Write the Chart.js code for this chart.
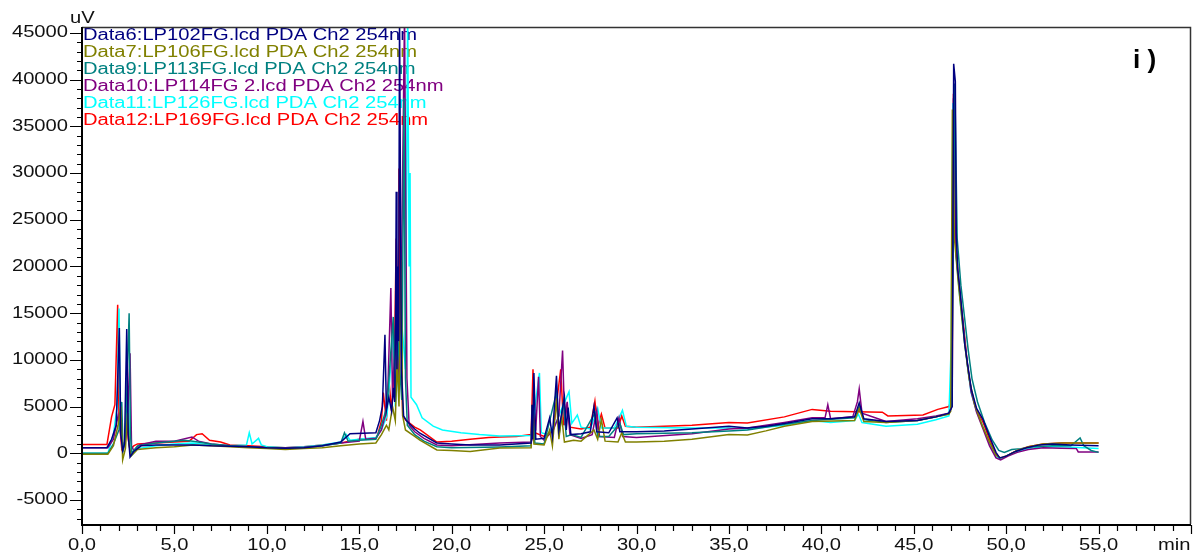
<!DOCTYPE html>
<html>
<head>
<meta charset="utf-8">
<script src="https://cdn.jsdelivr.net/npm/chart.js@4.4.1/dist/chart.umd.min.js"></script>
<style>
  html, body { margin: 0; padding: 0; background: #ffffff; }
  #wrap { width: 1195px; height: 556px; }
</style>
</head>
<body>
<div id="wrap"><canvas id="chrom" width="1195" height="556"></canvas></div>
<script>
// Chromatogram traces: [retention time (min), signal (uV)]
const data6 = [[0,600],[1.35,600],[1.6,1500],[1.85,3000],[2.02,13400],[2.1,2000],[2.2,300],[2.3,1000],[2.42,13300],[2.5,2000],[2.6,-400],[2.8,200],[3.2,800],[4,900],[5,900],[6,900],[7,800],[8,750],[9,700],[10,600],[11,550],[12,600],[13,800],[14,1200],[14.5,2100],[15.9,2200],[16.1,3500],[16.25,5000],[16.39,12700],[16.47,4600],[16.6,6000],[16.75,4500],[16.85,7000],[16.92,5500],[16.97,16000],[17.0,28000],[17.04,9000],[17.08,20000],[17.13,12000],[17.18,47000],[17.28,9000],[17.4,4000],[17.55,3500],[18.0,2600],[18.28,2150],[19.2,1100],[20,1000],[21,900],[22.6,900],[24.3,1100],[24.35,5200],[24.38,1500],[24.45,8600],[24.55,1500],[25.0,1600],[25.3,3800],[25.45,1800],[25.67,8300],[25.8,2500],[26.1,6000],[26.2,2500],[26.3,4900],[26.45,2000],[27.0,2100],[27.5,2300],[27.7,5000],[27.85,2300],[28.5,2200],[28.95,3800],[29.1,2300],[30,2300],[31.5,2400],[33,2600],[35,2900],[36,2700],[37,2900],[38,3200],[39.5,3700],[40.5,3700],[41.8,3900],[42.05,5400],[42.3,3700],[43.5,3400],[45.2,3500],[46.2,3900],[46.9,4300],[47.08,5000],[47.16,41700],[47.25,39800],[47.3,23600],[47.38,19600],[47.52,17100],[47.63,14600],[47.75,11800],[47.93,9300],[48.12,6800],[48.4,4800],[48.75,3600],[49.1,1800],[49.45,100],[49.65,-500],[50.0,-300],[50.5,200],[51.1,600],[51.8,900],[52.5,1000],[53.5,900],[55,800]];

const data7 = [[0,-100],[1.4,-100],[1.7,800],[1.95,3000],[2.1,5000],[2.2,-700],[2.35,500],[2.47,4300],[2.55,1000],[2.65,-300],[3.0,400],[4,600],[5,700],[6,900],[7,800],[8,700],[9,600],[10,500],[11,400],[12,500],[13,600],[14,800],[15,1000],[15.9,1100],[16.2,2000],[16.47,3000],[16.6,2500],[16.8,5000],[16.95,3500],[17.05,10000],[17.15,5000],[17.2,12000],[17.25,20700],[17.35,4000],[17.5,2500],[18.0,1800],[18.28,1400],[19.2,350],[20,300],[21,200],[22.6,570],[24.3,600],[24.35,5200],[24.45,1000],[25.0,900],[25.3,2500],[25.45,800],[25.67,5900],[25.8,1500],[25.95,4000],[26.1,1200],[26.6,1400],[27.0,1300],[27.7,2500],[27.9,1500],[28.1,3600],[28.3,1300],[29.0,1200],[29.2,2200],[29.4,1200],[30,1200],[31.5,1300],[33,1500],[35,2000],[36,1950],[37,2400],[38,2900],[39.5,3400],[41.8,3500],[42.05,4800],[42.3,3400],[43.5,3300],[45.2,3500],[46.2,3900],[46.9,4200],[47.0,4500],[47.09,36800],[47.2,23000],[47.4,18500],[47.6,14500],[47.8,11000],[48.0,8000],[48.3,5200],[48.7,3000],[49.1,1200],[49.45,-200],[49.7,-500],[50.1,-200],[50.6,300],[51.2,700],[52,1000],[53,1100],[55,1100]];

const data9 = [[0,0],[1.4,0],[1.7,1000],[2.0,2500],[2.15,5500],[2.22,300],[2.35,1500],[2.55,15000],[2.62,2000],[2.7,0],[3.0,800],[4,1100],[5,1300],[5.5,1400],[6,1300],[7,1000],[8,800],[9,700],[10,600],[11,500],[12,600],[13,800],[14,1100],[14.2,2200],[14.4,1300],[15,1400],[15.9,1500],[16.2,3000],[16.5,5000],[16.84,14600],[16.95,6000],[17.1,12000],[17.3,5700],[17.42,38000],[17.5,8000],[17.6,3000],[18,2000],[18.5,1300],[19.2,700],[20,600],[22.6,680],[24.3,800],[24.4,5000],[24.5,1100],[25,1000],[25.67,6500],[25.8,1800],[26.05,5500],[26.2,1800],[26.5,2000],[27,1700],[27.75,4300],[27.9,1800],[28.5,1800],[29.1,3200],[29.3,2000],[30,2100],[33,2200],[35,2400],[36,2500],[38,3100],[39.5,3500],[41.8,3800],[42.05,5000],[42.3,3600],[43.5,3300],[45.2,3500],[46.2,3900],[46.9,4200],[47.05,5000],[47.22,39600],[47.35,23000],[47.55,18000],[47.75,14500],[47.95,11000],[48.15,8000],[48.45,5500],[48.85,3200],[49.25,1400],[49.6,300],[49.9,100],[50.3,400],[50.8,500],[51.5,700],[52.5,800],[53.5,800],[54,1650],[54.2,800],[54.6,300],[55,100]];

const data10 = [[0,600],[1.4,600],[1.7,1500],[1.95,4000],[2.1,2000],[2.25,500],[2.45,3000],[2.6,10700],[2.68,800],[2.8,300],[3.1,900],[4,1300],[5,1300],[5.95,1750],[6.3,1300],[7,1000],[8,800],[9,700],[10,600],[11,600],[12,650],[13,800],[14,1100],[15.0,1300],[15.2,3400],[15.35,1500],[15.9,1600],[16.2,2500],[16.4,4000],[16.55,7000],[16.71,17700],[16.8,6000],[17.0,15000],[17.1,8000],[17.3,22000],[17.45,47000],[17.58,8000],[17.7,3000],[18,2300],[18.5,1600],[19.2,900],[20,800],[22.6,1100],[24.3,1200],[24.55,2500],[24.7,8200],[24.8,1800],[25.0,1400],[25.5,2500],[25.8,4000],[26.0,11000],[26.12,3000],[26.25,5500],[26.4,2000],[27,1600],[27.6,2000],[27.85,4600],[28.0,1800],[28.8,1700],[29.05,3800],[29.25,1800],[30,1700],[33,2100],[35,2600],[36,2700],[38,3300],[39.5,3800],[40.2,3800],[40.35,5200],[40.5,3700],[41.7,3900],[41.95,5500],[42.05,6900],[42.2,4300],[43.5,3400],[45.2,3700],[46.2,4000],[46.9,4300],[47.05,5000],[47.15,38000],[47.28,21500],[47.5,17000],[47.7,13200],[47.9,9600],[48.1,6600],[48.4,4400],[48.75,2600],[49.1,800],[49.45,-500],[49.7,-720],[50.1,-300],[50.6,100],[51.2,400],[52,600],[53,550],[53.8,500],[53.9,150],[55,150]];

const data11 = [[0,0],[1.4,0],[1.7,2000],[1.9,5000],[2.0,15500],[2.08,3000],[2.2,400],[2.35,1500],[2.48,7000],[2.58,1000],[2.7,-200],[3.0,500],[4,800],[5,1000],[6,1100],[7,900],[8,800],[8.9,900],[9.05,2200],[9.2,1000],[9.55,1600],[9.7,900],[10,700],[11,600],[12,700],[13,900],[14,1200],[14.3,2000],[14.5,1400],[15,1500],[15.9,1700],[16.2,2500],[16.5,4000],[16.84,13000],[16.95,5000],[17.1,9000],[17.3,14000],[17.5,9000],[17.62,47000],[17.7,20000],[17.75,30000],[17.8,6000],[18.1,5200],[18.4,3800],[19.0,2900],[19.5,2500],[20.5,2200],[21.5,2000],[22.6,1850],[24.3,1900],[24.75,8600],[24.85,2200],[25.2,2000],[25.7,3500],[26.0,5000],[26.35,6600],[26.5,3200],[26.8,4100],[27.0,2800],[27.5,2600],[27.9,4800],[28.1,2700],[28.8,2700],[29.24,4600],[29.45,2900],[30,2800],[33,2700],[35,2700],[36,2600],[38,3000],[39.5,3500],[40.5,3300],[41.8,3500],[42.0,4200],[42.2,3300],[43.5,2900],[45.2,3100],[46.2,3600],[46.9,4000],[47.03,11800],[47.12,37500],[47.3,21000],[47.5,16500],[47.7,12800],[47.9,9400],[48.1,6500],[48.4,4500],[48.75,2800],[49.1,1000],[49.45,-400],[49.7,-600],[50.1,-200],[50.6,200],[51.2,500],[52,700],[53,700],[55,500]];

const data12 = [[0,950],[1.35,950],[1.6,3900],[1.78,5200],[1.93,15900],[2.0,4000],[2.15,500],[2.3,1200],[2.42,4000],[2.5,1500],[2.6,300],[2.8,800],[3.0,1000],[4,1100],[5,1200],[5.8,1300],[6.2,2000],[6.5,2100],[6.9,1400],[7.5,1200],[8,900],[9,800],[10,700],[11,600],[12,700],[13,900],[14,1100],[15,1500],[15.9,1600],[16.0,2000],[16.2,3500],[16.3,6500],[16.47,3500],[16.6,8000],[16.75,4500],[16.9,9500],[17.0,23000],[17.1,15000],[17.15,30500],[17.25,12000],[17.35,4000],[17.55,3500],[18.0,2800],[18.3,2500],[19.2,1200],[20,1300],[21,1500],[22,1700],[22.6,1750],[23.5,1800],[24.3,2000],[24.4,9000],[24.5,2200],[25.0,1800],[25.5,2500],[25.9,9000],[26.05,3000],[26.2,5000],[26.4,2800],[27.0,2600],[27.5,2800],[27.75,5600],[27.9,2800],[28.1,4200],[28.3,2700],[29.0,2700],[29.2,4000],[29.4,2900],[30,2800],[33,3000],[35,3300],[36,3250],[38,3900],[39.5,4700],[40.5,4500],[43.3,4400],[43.6,4000],[45.5,4100],[46.3,4700],[46.9,5000],[47.08,6000],[47.15,38500],[47.28,22000],[47.5,17000],[47.7,13500],[47.9,9500],[48.1,6800],[48.4,4600],[48.75,3300],[49.1,1500],[49.45,-100],[49.7,-600],[50.1,-200],[50.6,300],[51.2,700],[52,1000],[53,1100],[54,1100],[55,1100]];

const seriesNames = [
  'Data6:LP102FG.lcd PDA Ch2 254nm',
  'Data7:LP106FG.lcd PDA Ch2 254nm',
  'Data9:LP113FG.lcd PDA Ch2 254nm',
  'Data10:LP114FG 2.lcd PDA Ch2 254nm',
  'Data11:LP126FG.lcd PDA Ch2 254nm',
  'Data12:LP169FG.lcd PDA Ch2 254nm'
];
const seriesData = [data6, data7, data9, data10, data11, data12];

// Axis ticks
const xMajorTicks = [0, 5, 10, 15, 20, 25, 30, 35, 40, 45, 50, 55];
const yMajorTicks = [-5000, 0, 5000, 10000, 15000, 20000, 25000, 30000, 35000, 40000, 45000];

// Trace colours
const traceColors = ['#000080', '#808000', '#008080', '#800080', '#00ffff', '#ff0000'];

const FONT = '"Liberation Sans", Arial, sans-serif';
const STRETCH = 1.26;

function stretchedText(ctx, text, x, y, align, font, color, sx) {
  ctx.save();
  ctx.font = font;
  ctx.fillStyle = color;
  ctx.textAlign = align;
  ctx.textBaseline = 'middle';
  ctx.translate(x, y);
  ctx.scale(sx, 1);
  ctx.fillText(text, 0, 0);
  ctx.restore();
}

const frameAndLabels = {
  id: 'frameAndLabels',
  beforeDatasetsDraw(chart) {
    const ctx = chart.ctx;
    const area = chart.chartArea;
    // trace names, listed inside the top-left corner of the plot
    seriesNames.forEach((name, i) => {
      stretchedText(ctx, name, area.left + 1, 36 + i * 17, 'left', '16px ' + FONT, traceColors[i], STRETCH);
    });
  },
  afterDraw(chart) {
    const ctx = chart.ctx;
    const area = chart.chartArea;
    const xs = chart.scales.x;
    const ys = chart.scales.y;
    ctx.save();
    // top and right frame
    ctx.strokeStyle = '#333333';
    ctx.lineWidth = 1.5;
    ctx.beginPath();
    ctx.moveTo(area.left, area.top + 0.5);
    ctx.lineTo(area.right - 0.5, area.top + 0.5);
    ctx.lineTo(area.right - 0.5, area.bottom);
    ctx.stroke();
    // main axes
    ctx.strokeStyle = '#000000';
    ctx.lineWidth = 2;
    ctx.beginPath();
    ctx.moveTo(area.left, area.top);
    ctx.lineTo(area.left, area.bottom + 1);
    ctx.lineTo(area.right, area.bottom + 1);
    ctx.stroke();
    // y ticks every 1000, longer at labelled values
    ctx.lineWidth = 1.2;
    ctx.beginPath();
    for (let v = -7000; v <= 45000; v += 1000) {
      const py = Math.round(ys.getPixelForValue(v)) + 0.5;
      const len = (v % 5000 === 0) ? 12 : 5;
      ctx.moveTo(area.left - len, py);
      ctx.lineTo(area.left, py);
    }
    // x ticks every minute, longer at labelled values
    for (let t = 0; t <= 60; t += 1) {
      const px = Math.round(xs.getPixelForValue(t)) + 0.5;
      const len = (t % 5 === 0) ? 9 : 6;
      ctx.moveTo(px, area.bottom + 1);
      ctx.lineTo(px, area.bottom + 1 + len);
    }
    ctx.stroke();
    ctx.restore();

    yMajorTicks.forEach(v => {
      stretchedText(ctx, String(v), area.left - 14, ys.getPixelForValue(v), 'right', '16px ' + FONT, '#111111', STRETCH);
    });
    xMajorTicks.forEach(t => {
      stretchedText(ctx, t.toFixed(1).replace('.', ','), xs.getPixelForValue(t), 546, 'center', '16px ' + FONT, '#111111', STRETCH);
    });
    stretchedText(ctx, 'uV', 70, 19, 'left', '16px ' + FONT, '#111111', STRETCH);
    stretchedText(ctx, 'min', 1158, 546, 'left', '16px ' + FONT, '#111111', STRETCH);
    stretchedText(ctx, 'i )', 1133, 61, 'left', 'bold 25px ' + FONT, '#000000', 1.05);
  }
};

new Chart(document.getElementById('chrom'), {
  type: 'line',
  data: {
    datasets: seriesData.map((pts, i) => ({
      label: seriesNames[i],
      data: pts.map(p => ({ x: p[0], y: p[1] })),
      borderColor: traceColors[i],
      borderWidth: 1.5,
      pointRadius: 0,
      tension: 0,
      fill: false
    }))
  },
  options: {
    responsive: false,
    animation: false,
    devicePixelRatio: 1,
    layout: { padding: { top: 27, right: 4, left: 0, bottom: 0 } },
    plugins: { legend: { display: false }, tooltip: { enabled: false } },
    scales: {
      x: {
        type: 'linear', min: 0, max: 60,
        grid: { display: false }, border: { display: false },
        ticks: { display: false },
        afterFit(scale) { scale.height = 32; }
      },
      y: {
        type: 'linear', min: -7570, max: 45640,
        grid: { display: false }, border: { display: false },
        ticks: { display: false },
        afterFit(scale) { scale.width = 82; }
      }
    }
  },
  plugins: [frameAndLabels]
});
</script>
</body>
</html>
